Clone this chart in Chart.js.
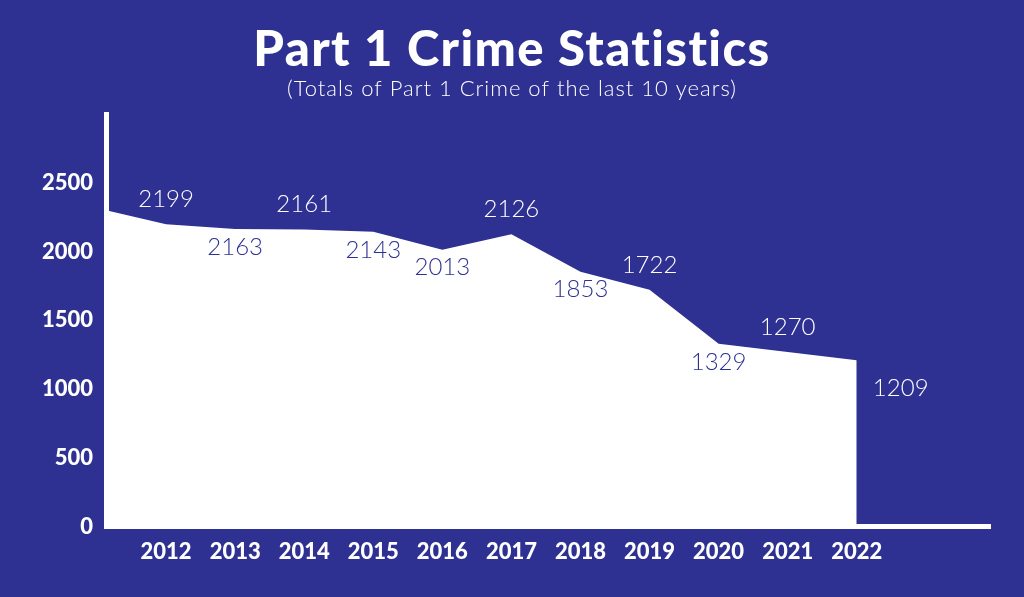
<!DOCTYPE html>
<html>
<head>
<meta charset="utf-8">
<script src="https://cdn.jsdelivr.net/npm/chart.js@4"></script>
<style>
  html, body { margin: 0; padding: 0; background: #2E3192; }
  #wrap { width: 1024px; height: 597px; }
</style>
</head>
<body>
<div id="wrap"><canvas id="c"></canvas></div>
<script>
// ---- data ----
const years = [2012, 2013, 2014, 2015, 2016, 2017, 2018, 2019, 2020, 2021, 2022];
const crimeTotals = [2199, 2163, 2161, 2143, 2013, 2126, 1853, 1722, 1329, 1270, 1209];
const yTickValues = [0, 500, 1000, 1500, 2000, 2500];
const axisStartValue = 2300;   // height of the white area where it meets the y axis
const labelPlacement = ['above','below','above','below','below','above','below','above','below','above','right'];

const titleText = 'Part 1 Crime Statistics';
const subtitleText = '(Totals of Part 1 Crime of the last 10 years)';

// ---- styling ----
const BG = '#2E3192';
const WHITE = '#ffffff';
const X_MIN = 2011.13, X_MAX = 2023.93;

const points = [{ x: X_MIN, y: axisStartValue }].concat(
  years.map((yr, i) => ({ x: yr, y: crimeTotals[i] }))
);

const bgPlugin = {
  id: 'bg',
  beforeDraw(chart) {
    const ctx = chart.ctx;
    ctx.save();
    ctx.fillStyle = BG;
    ctx.fillRect(0, 0, chart.width, chart.height);
    ctx.restore();
  }
};

// title + subtitle drawn with letter spacing (Chart.js title cannot space letters)
const headerPlugin = {
  id: 'header',
  afterDraw(chart) {
    const ctx = chart.ctx;
    const cx = chart.width / 2;
    ctx.save();
    ctx.fillStyle = WHITE;
    ctx.textAlign = 'center';
    ctx.textBaseline = 'middle';
    ctx.font = '900 49px Lato, "Open Sans", sans-serif';
    if ('letterSpacing' in ctx) ctx.letterSpacing = '1.4px';
    ctx.fillText(titleText, cx, 50);
    ctx.font = '300 22px Lato, "Open Sans", sans-serif';
    if ('letterSpacing' in ctx) ctx.letterSpacing = '1px';
    ctx.fillText(subtitleText, cx, 89);
    ctx.restore();
  }
};

const valueLabels = {
  id: 'valueLabels',
  afterDatasetsDraw(chart) {
    const ctx = chart.ctx;
    const meta = chart.getDatasetMeta(0);
    ctx.save();
    ctx.font = '300 24px Lato, "Open Sans", sans-serif';
    ctx.textAlign = 'center';
    ctx.textBaseline = 'middle';
    crimeTotals.forEach((v, i) => {
      const el = meta.data[i + 1];
      const place = labelPlacement[i];
      let x = el.x, y = el.y, color = WHITE;
      if (place === 'above') { y -= 25; }
      else if (place === 'below') { y += 18; color = BG; }
      else { x += 44; y += 28; }
      ctx.fillStyle = color;
      ctx.fillText(String(v), x, y);
    });
    ctx.restore();
  }
};

new Chart(document.getElementById('c'), {
  type: 'line',
  data: {
    datasets: [{
      data: points,
      fill: 'origin',
      backgroundColor: WHITE,
      borderWidth: 0,
      pointRadius: 0,
      tension: 0
    }]
  },
  options: {
    responsive: true,
    maintainAspectRatio: false,
    animation: false,
    layout: { padding: { left: 0, right: 34, top: 114, bottom: 20 } },
    plugins: {
      legend: { display: false },
      tooltip: { enabled: false },
      title: { display: false }
    },
    scales: {
      x: {
        type: 'linear',
        min: X_MIN,
        max: X_MAX,
        afterBuildTicks(scale) { scale.ticks = years.map(v => ({ value: v })); },
        grid: { display: false, drawTicks: false },
        border: { display: true, color: WHITE, width: 5 },
        ticks: {
          color: WHITE,
          padding: 12,
          autoSkip: false,
          maxRotation: 0,
          font: { family: 'Lato, "DejaVu Sans", sans-serif', size: 22, weight: '900' },
          callback: v => String(v)
        }
      },
      y: {
        min: 0,
        max: 3000,
        afterBuildTicks(scale) { scale.ticks = yTickValues.map(v => ({ value: v })); },
        afterFit(scale) { scale.width = 106; },
        grid: { display: false, drawTicks: false },
        border: { display: true, color: WHITE, width: 5 },
        ticks: {
          color: WHITE,
          padding: 13,
          font: { family: 'Lato, "DejaVu Sans", sans-serif', size: 22, weight: '900' },
          callback: v => String(v)
        }
      }
    }
  },
  plugins: [bgPlugin, valueLabels, headerPlugin]
});
</script>
</body>
</html>
